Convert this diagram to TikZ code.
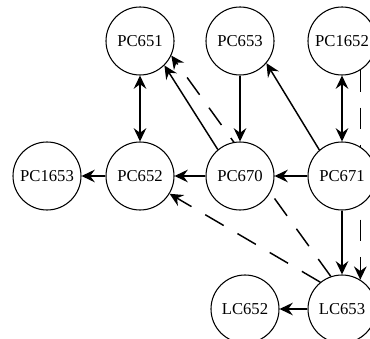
\documentclass[tikz,border=0pt]{standalone}
\usepackage{fontspec}
\setmainfont{Liberation Serif}
\usetikzlibrary{arrows.meta,backgrounds}

\begin{document}
\begin{tikzpicture}[x = 0.75pt, y = -0.75pt,
  >={Stealth[length = 10pt, width = 9.5pt, inset = 3.5pt]},
  pc/.style = {circle, draw, fill = white, line width = 0.8pt,
    minimum size = 51pt, inner sep = 0pt, font = \fontsize{12.5}{14}\selectfont},
  link/.style = {->, line width = 1.1pt},
  dashlink/.style = {link, dash pattern = on 16pt off 12pt}]
  \useasboundingbox (0, 0) rectangle (370, 338);

  \foreach \n/\x/\y in {PC651/140/41, PC653/240/41, PC1652/342/41,
    PC1653/47/176, PC652/140/176, PC670/240/176, PC671/342/176,
    LC652/245/309, LC653/342/309}{
    \node[pc] (\n) at (\x, \y) {\n};
  }

  \foreach \a/\b in {PC671/PC670, PC670/PC652, PC652/PC1653, LC653/LC652,
    PC653/PC670, PC671/LC653, PC670.130/PC651.-45, PC671.131/PC653.-40}{
    \draw[link] (\a) -- (\b);
  }
  \foreach \a/\b in {PC652/PC651, PC671/PC1652}{
    \draw[link, <->] (\a) -- (\b);
  }

  \begin{scope}[on background layer]
    \foreach \a/\b in {LC653.109/PC651.-25, LC653.129/PC652.-31,
      PC1652.-58/LC653.58}{
      \draw[dashlink] (\a) -- (\b);
    }
  \end{scope}
\end{tikzpicture}
\end{document}
